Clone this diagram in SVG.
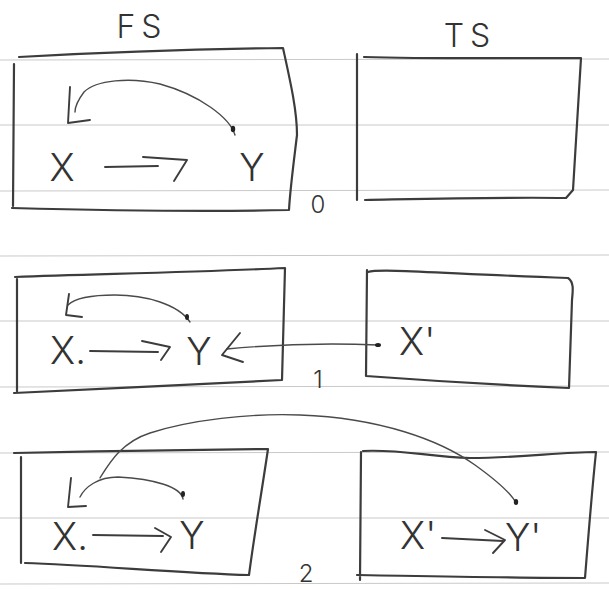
<svg xmlns="http://www.w3.org/2000/svg" width="609" height="589" viewBox="0 0 609 589">
  <style>
    .paper { fill: #ffffff; }
    .rule { stroke: #c9c9c9; stroke-width: 1; fill: none; }
    .box { stroke: #3c3c3c; stroke-width: 2.2; fill: none; stroke-linejoin: round; stroke-linecap: round; }
    .pen { stroke: #3c3c3c; stroke-width: 1.9; fill: none; stroke-linejoin: round; stroke-linecap: round; }
    .thin { stroke: #4a4a4a; stroke-width: 1.4; fill: none; stroke-linecap: round; stroke-linejoin: round; }
    .dot { fill: #222222; }
    .hand { font-family: Inter, "Liberation Sans", sans-serif; font-weight: 300; fill: #333333; }
    .mid { text-anchor: middle; }
    .big { font-size: 38px; }
    .head { font-size: 32px; }
    .num { font-size: 24px; }
  </style>

  <!-- sheet of ruled paper -->
  <rect class="paper" x="0" y="0" width="609" height="589"/>
  <g id="rules">
    <line class="rule" x1="0" y1="60" x2="609" y2="59"/>
    <line class="rule" x1="0" y1="125" x2="609" y2="125"/>
    <line class="rule" x1="0" y1="191" x2="609" y2="190"/>
    <line class="rule" x1="0" y1="256" x2="609" y2="255"/>
    <line class="rule" x1="0" y1="321" x2="609" y2="321"/>
    <line class="rule" x1="0" y1="387" x2="609" y2="386"/>
    <line class="rule" x1="0" y1="453" x2="609" y2="452"/>
    <line class="rule" x1="0" y1="518" x2="609" y2="518"/>
    <line class="rule" x1="0" y1="584" x2="609" y2="583"/>
  </g>

  <!-- column headings -->
  <g id="heading-fs"><text class="hand head mid" x="142" y="38" letter-spacing="6">FS</text></g>
  <g id="heading-ts"><text class="hand head mid" x="470" y="47" letter-spacing="6">TS</text></g>

  <!-- step 0 -->
  <g id="fs0">
    <path class="box" d="M19,57 C90,53 200,49 283,48 C290,80 297,110 297,135 C294,160 290,190 289,210 C200,212 90,210 12,208 M14,64 L13,206"/>
  </g>
  <g id="ts0">
    <path class="box" d="M357,54 L357,200 M364,57 C430,59 520,58 581,58 C578,110 575,160 573,190 L566,198 C500,197 420,199 365,200"/>
  </g>
  <g id="x0"><text class="hand big mid" x="62" y="181">X</text></g>
  <g id="y0"><text class="hand big mid" x="252" y="181">Y</text></g>
  <g id="step0"><text class="hand num mid" x="318" y="213">0</text></g>

  <!-- step 1 -->
  <g id="fs1">
    <path class="box" d="M15,277 C100,274 200,272 285,268 C284,310 283,350 282,380 C200,384 100,389 14,393 M17,279 L17,391"/>
  </g>
  <g id="ts1">
    <path class="box" d="M368,272 C380,268 450,274 568,278 C574,282 573,290 572,300 C571,330 570,360 569,388 C500,385 420,380 366,376 M367,270 L366,376"/>
  </g>
  <g id="x1"><text class="hand big" x="50" y="364">X.</text></g>
  <g id="y1"><text class="hand big mid" x="199" y="365">Y</text></g>
  <g id="x1p"><text class="hand big" x="399" y="355">X'</text></g>
  <g id="step1"><text class="hand num mid" x="318" y="388">1</text></g>

  <!-- step 2 -->
  <g id="fs2">
    <path class="box" d="M14,453 C100,451 200,450 268,449 C262,490 255,530 249,575 C180,573 90,565 25,563 M21,457 L21,563"/>
  </g>
  <g id="ts2">
    <path class="box" d="M361,452 L360,580 M363,451 C400,449 430,457 470,458 C520,458 560,452 596,452 C592,490 588,540 585,578 C520,578 420,576 357,575"/>
  </g>
  <g id="x2"><text class="hand big" x="52" y="550">X.</text></g>
  <g id="y2"><text class="hand big mid" x="192" y="549">Y</text></g>
  <g id="x2p"><text class="hand big" x="400" y="549">X'</text></g>
  <g id="y2p"><text class="hand big" x="505" y="551">Y'</text></g>
  <g id="step2"><text class="hand num mid" x="306" y="582">2</text></g>

  <!-- connectors -->
  <g id="connectors">
    <!-- step 0 -->
    <path class="pen" d="M105,167 L158,166"/>
    <path class="pen" d="M143,157 L187,160 L174,181"/>
    <path class="thin" d="M235,135 C230,118 200,95 160,84 C130,77 96,80 84,92 C78,100 75,107 75,112"/>
    <path class="pen" d="M70,87 L68,123 L90,120"/>
    <ellipse class="dot" cx="233" cy="129" rx="2.2" ry="3.2"/>

    <!-- step 1 -->
    <path class="pen" d="M90,351 L158,352"/>
    <path class="pen" d="M142,341 L170,347 L161,360"/>
    <path class="thin" d="M190,322 C178,304 145,295 115,295 C90,295 74,299 68,305"/>
    <path class="pen" d="M69,294 L66,315 L82,317"/>
    <ellipse class="dot" cx="187" cy="317" rx="2" ry="3"/>
    <path class="thin" d="M227,349 C280,344 330,343 378,345"/>
    <path class="pen" d="M240,333 L222,355 L243,362"/>
    <ellipse class="dot" cx="378" cy="345" rx="3" ry="2"/>

    <!-- step 2 -->
    <path class="pen" d="M93,535 L163,536"/>
    <path class="pen" d="M155,528 L171,537 L161,552"/>
    <path class="pen" d="M442,538 C460,539 485,540 503,541"/>
    <path class="pen" d="M485,530 L505,540 L493,553"/>
    <path class="thin" d="M183,499 C181,487 155,479 118,477 C98,477 85,487 80,497"/>
    <path class="pen" d="M71,478 L68,507 L86,506"/>
    <ellipse class="dot" cx="183" cy="494" rx="2" ry="3"/>
    <path class="thin" d="M100,478 C110,462 122,442 150,433 C190,420 250,413 300,415 C380,418 440,440 475,465 C500,483 512,495 516,503"/>
    <ellipse class="dot" cx="516" cy="502" rx="2.2" ry="3"/>
  </g>
</svg>
